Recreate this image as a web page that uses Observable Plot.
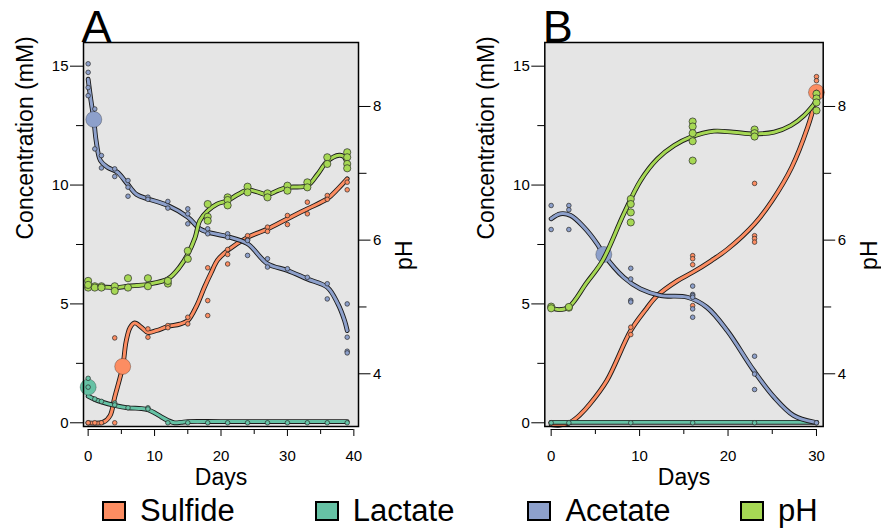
<!DOCTYPE html>
<html><head><meta charset="utf-8">
<script src="https://cdn.jsdelivr.net/npm/d3@7"></script>
<script src="https://cdn.jsdelivr.net/npm/@observablehq/plot@0.6"></script>
<style>
body{margin:0;background:#fff;font-family:"Liberation Sans",Arial,Helvetica,sans-serif;}
#wrap{position:relative;width:881px;height:529px;overflow:hidden;}
#pa{position:absolute;left:0;top:0;}
#pb{position:absolute;left:440px;top:0;}
#legend{position:absolute;left:102px;top:490px;height:41px;display:flex;align-items:center;}
.item{display:flex;align-items:center;width:212.7px;}
.key{width:20px;height:16px;border:2px solid #000;}
.lab{margin-left:14px;font-size:31px;line-height:1;color:#000;}
</style></head><body>
<div id="wrap"><div id="pa"></div><div id="pb"></div><div id="legend"></div></div>
<script>
// ---------- series ----------
const seriesNames = ["Sulfide", "Lactate", "Acetate", "pH"];
const seriesColors = ["#FC8D62", "#66C2A5", "#8DA0CB", "#A6D854"];

// ---------- axis ticks ----------
const concMajor = [0, 5, 10, 15];
const concMinor = [2.5, 7.5, 12.5];
const phMajor = [4, 6, 8];
const phMinor = [5, 7];
const daysMajorA = [0, 10, 20, 30, 40];
const daysMinorA = [5, 15, 25, 35];
const daysMajorB = [0, 10, 20, 30];
const daysMinorB = [5, 15, 25];

// ---------- Panel A: measurements [day, value] ----------
const aSulfidePoints = [[0,0],[0,0],[1,0],[2,0],[4,3.57],[4,0],[9,3.95],[9,3.6],[12,4.09],[12,4.0],[15,4.44],[15,4.16],[18,6.52],[18,5.14],[18,4.51],[21,7.29],[21,7.08],[21,6.68],[24,7.87],[24,7.7],[27,8.23],[27,8.05],[30,8.72],[30,8.34],[33,9.28],[33,8.79],[36,9.56],[36,9.4],[39,10.12],[39,9.8]];
const aLactatePoints = [[0,1.87],[0,1.5],[1,1.0],[2,0.9],[4,0.83],[4,0.75],[6,0.63],[9,0.63],[9,0.58],[12,0],[15,0],[18,0],[21,0],[24,0],[27,0],[30,0],[33,0],[36,0],[39,0]];
const aAcetatePoints = [[0,15.1],[0,14.74],[0,14.1],[0,13.76],[1,13.2],[1,11.52],[2,11.24],[2,10.72],[4,10.68],[4,10.36],[6,10.19],[6,9.91],[6,9.53],[9,9.49],[9,9.4],[12,9.31],[12,9.03],[15,9.0],[15,8.79],[15,8.37],[18,8.16],[18,7.95],[21,7.95],[21,7.8],[24,7.67],[24,7.04],[27,6.9],[27,6.55],[30,6.48],[33,6.12],[36,5.85],[36,5.21],[39,5.0],[39,3.6],[39,3.01],[39,2.94]];
const aPhPoints = [[0,5.39],[0,5.29],[0,5.33],[1,5.31],[1,5.29],[2,5.31],[2,5.29],[4,5.31],[4,5.24],[6,5.43],[6,5.29],[9,5.43],[9,5.31],[12,5.35],[12,5.39],[15,5.84],[15,5.72],[18,6.54],[18,6.35],[18,6.29],[21,6.64],[21,6.6],[21,6.52],[24,6.8],[24,6.715],[27,6.7],[27,6.64],[30,6.815],[30,6.74],[33,6.865],[33,6.79],[36,7.24],[36,7.14],[39,7.315],[39,7.24],[39,7.14],[39,7.075]];

// Panel A: smoothed fits [day, value]
const aSulfideFit = [[0,0],[2.3,0.03],[3.3,0.3],[4,1.08],[5.2,2.37],[5.7,3.4],[6.3,4.0],[7,4.2],[8,4.02],[9,3.8],[10.3,3.88],[12,4.05],[13.8,4.15],[15,4.3],[16.3,4.9],[17.5,5.7],[18.5,6.3],[19.5,6.85],[21,7.25],[24,7.8],[27,8.15],[30,8.58],[33,9.0],[36,9.42],[37.6,9.84],[39,10.26]];
const aLactateFit = [[0,1.12],[1,0.98],[2,0.88],[4,0.73],[6,0.63],[8,0.6],[9,0.55],[10,0.42],[11,0.25],[12,0.1],[13,0.0],[14,0.02],[15,0.05],[20,0.05],[30,0.05],[39,0.05]];
const aAcetateFit = [[0,14.45],[0.4,13.6],[0.85,12.76],[1.2,11.87],[1.85,11.03],[2.9,10.75],[4.4,10.54],[5.9,10.05],[7.3,9.6],[9,9.42],[12,9.14],[15,8.65],[16.8,8.16],[18,8.02],[21,7.83],[24,7.53],[27,6.69],[30,6.41],[33,6.05],[36,5.7],[37.6,5.0],[38.6,4.3],[39,3.88]];
const aPhFit = [[0,5.31],[2,5.3],[4.3,5.29],[6,5.31],[9,5.34],[12,5.42],[13.8,5.6],[15,5.79],[16.1,6.04],[16.8,6.29],[18,6.44],[19.4,6.54],[21,6.59],[22.5,6.68],[24,6.75],[25.5,6.72],[27,6.68],[28.5,6.74],[30,6.79],[33,6.815],[34.5,6.98],[36,7.18],[37.8,7.27],[38.5,7.25],[39,7.14]];

// Panel A: label markers [day, value] (null = none)
const aMarkers = [[5.2,2.37],[0,1.5],[0.85,12.76],null];

// ---------- Panel B ----------
const bSulfidePoints = [[0,0],[0,0],[2,0],[2,0],[9,4.02],[9,3.71],[16,7.03],[16,6.9],[16,6.65],[16,4.93],[23,10.07],[23,7.87],[23,7.75],[23,7.6],[30,14.56],[30,14.39],[30,13.9]];
const bLactatePoints = [[0,0],[2,0],[9,0],[16,0],[23,0],[30,0]];
const bAcetatePoints = [[0,9.14],[0,8.13],[2,9.14],[2,8.96],[2,8.13],[9,6.5],[9,6.05],[9,5.15],[9,5.08],[16,5.75],[16,5.4],[16,5.35],[16,5.28],[16,4.79],[16,4.44],[23,2.8],[23,2.05],[23,1.4],[30,0]];
const bPhPoints = [[0,5.005],[0,4.98],[2,4.99],[2,5.0],[9,6.615],[9,6.54],[9,6.415],[9,6.265],[16,7.775],[16,7.7],[16,7.6],[16,7.48],[16,7.19],[23,7.655],[23,7.6],[23,7.55],[30,8.19],[30,8.12],[30,8.06],[30,7.94]];

const bSulfideFit = [[0,-0.08],[1,-0.1],[2.2,0.03],[3.3,0.35],[4.4,0.8],[6.3,1.78],[9,3.88],[10.6,4.72],[12,5.35],[14.3,5.98],[16,6.33],[18.1,6.82],[20,7.32],[23,8.37],[25,9.35],[27.2,10.75],[29,12.43],[30,13.7]];
const bLactateFit = [[0,0.02],[30,0.02]];
const bAcetateFit = [[0,8.58],[1.05,8.79],[2.2,8.72],[3.7,8.23],[5.2,7.53],[5.95,7.08],[8.2,6.12],[10.1,5.63],[12.4,5.35],[15.4,5.28],[17.6,4.86],[19.9,3.88],[22.9,2.2],[25.2,1.08],[27.4,0.31],[29.7,0.03],[30,0.02]];
const bPhFit = [[0,4.99],[0.9,4.96],[2,5.0],[4,5.36],[5.8,5.69],[8.2,6.39],[10.1,6.89],[12,7.215],[13.9,7.415],[15.75,7.54],[18.4,7.63],[20.6,7.615],[22.9,7.59],[25.2,7.615],[27.1,7.715],[28.6,7.865],[30,8.08]];

const bMarkers = [[30,13.9],null,[5.95,7.08],null];

// ---------- secondary (pH) axis mapping onto the mM scale ----------
const PH_AT4 = 2.061, PH_SLOPE = 2.811;
const toMM = ph => PH_AT4 + (ph - 4) * PH_SLOPE;
const fromMM = mm => (mm - PH_AT4) / PH_SLOPE + 4;
const Y_DOMAIN = [-0.156, 15.996];

function seriesMarks(points, fit, color, isPH, marker) {
  const conv = isPH ? toMM : (v => v);
  const pts = points.map(([d, v]) => ({day: d, val: conv(v)}));
  const ln = fit.map(([d, v]) => ({day: d, val: conv(v)}));
  const m = [
    Plot.line(ln, {x: "day", y: "val", stroke: "#1a1a1a", strokeWidth: 4.8, curve: "catmull-rom"}),
    Plot.line(ln, {x: "day", y: "val", stroke: color, strokeWidth: 3, curve: "catmull-rom"})
  ];
  if (marker) m.push(Plot.dot([marker], {x: d => d[0], y: d => conv(d[1]), r: 8, fill: color, stroke: "rgba(0,0,0,0.35)", strokeWidth: 0.8}));
  m.push(Plot.dot(pts, {x: "day", y: "val", r: isPH ? 3.6 : 2.3, fill: color, stroke: "#2a2a2a", strokeWidth: 0.7}));
  return m;
}

function panel({width, marginLeft, marginRight, xDomain, xMajor, xMinor, label, pointSets, fitSets, markers}) {
  const dataMarks = [];
  seriesNames.forEach((name, i) => {
    dataMarks.push(...seriesMarks(pointSets[i], fitSets[i], seriesColors[i], name === "pH", markers[i]));
  });
  return Plot.plot({
    width, height: 490, marginLeft, marginRight, marginTop: 42, marginBottom: 64,
    x: {domain: xDomain},
    y: {domain: Y_DOMAIN},
    style: {fontFamily: '"Liberation Sans", Arial, Helvetica, sans-serif', fontSize: "15px", background: "transparent", overflow: "visible", color: "#000"},
    marks: [
      Plot.frame({fill: "#e5e5e5", stroke: "none"}),
      ...dataMarks,
      Plot.frame({stroke: "#000", strokeWidth: 1.5}),
      Plot.axisY(concMajor, {anchor: "left", tickSize: 13, tickPadding: 2, fontSize: 15, label: null}),
      Plot.axisY(concMinor, {anchor: "left", tickSize: 7, tickFormat: () => "", label: null}),
      Plot.axisY(phMajor.map(toMM), {anchor: "right", tickSize: 11.5, tickPadding: 3, fontSize: 15, label: null, tickFormat: v => String(Math.round(fromMM(v)))}),
      Plot.axisY(phMinor.map(toMM), {anchor: "right", tickSize: 7.5, tickFormat: () => "", label: null}),
      Plot.axisX(xMajor, {anchor: "bottom", tickSize: 7, tickPadding: 14, dy: 3, fontSize: 15, label: null}),
      Plot.axisX(xMinor, {anchor: "bottom", tickSize: 5, dy: 3, tickFormat: () => "", label: null}),
      Plot.ruleY([Y_DOMAIN[0]], {x1: xMajor[0], x2: xMajor[xMajor.length - 1], dy: 3, stroke: "#000", strokeWidth: 1.2}),
      Plot.text([label], {frameAnchor: "top-left", dx: -2, dy: -1, lineAnchor: "bottom", textAnchor: "start", fontSize: 45}),
      Plot.text(["Concentration (mM)"], {frameAnchor: "left", dx: -58, dy: 5, rotate: -90, fontSize: 23}),
      Plot.text(["pH"], {frameAnchor: "right", dx: 46, dy: 6, rotate: -90, fontSize: 23}),
      Plot.text(["Days"], {frameAnchor: "bottom", lineAnchor: "top", dy: 42, fontSize: 23})
    ]
  });
}

document.getElementById("pa").append(panel({
  width: 440, marginLeft: 83, marginRight: 82,
  xDomain: [-0.7, 40.7], xMajor: daysMajorA, xMinor: daysMinorA, label: "A",
  pointSets: [aSulfidePoints, aLactatePoints, aAcetatePoints, aPhPoints],
  fitSets: [aSulfideFit, aLactateFit, aAcetateFit, aPhFit],
  markers: aMarkers
}));
document.getElementById("pb").append(panel({
  width: 441, marginLeft: 104.3, marginRight: 58.3,
  xDomain: [-0.72, 30.76], xMajor: daysMajorB, xMinor: daysMinorB, label: "B",
  pointSets: [bSulfidePoints, bLactatePoints, bAcetatePoints, bPhPoints],
  fitSets: [bSulfideFit, bLactateFit, bAcetateFit, bPhFit],
  markers: bMarkers
}));

const legend = document.getElementById("legend");
seriesNames.forEach((n, i) => {
  const it = document.createElement("div"); it.className = "item";
  const k = document.createElement("div"); k.className = "key"; k.style.background = seriesColors[i];
  const t = document.createElement("span"); t.className = "lab"; t.textContent = n;
  it.append(k, t); legend.append(it);
});
</script>
</body></html>
